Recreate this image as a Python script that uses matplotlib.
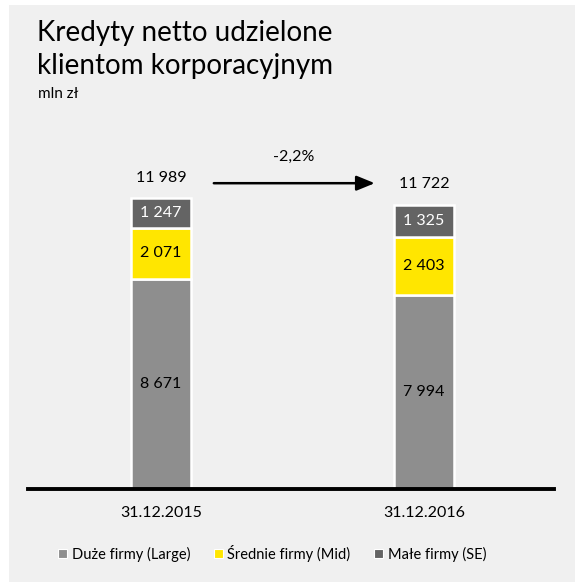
import matplotlib
matplotlib.use("Agg")
import matplotlib.pyplot as plt
from matplotlib.patches import Rectangle, Patch

plt.rcParams['font.family'] = ['Lato', 'DejaVu Sans']

# Data (mln zł)
dates = ["31.12.2015", "31.12.2016"]
large = [8671, 7994]
mid = [2071, 2403]
small = [1247, 1325]
totals = [11989, 11722]
change_label = "-2,2%"
series_names = ["Duże firmy (Large)", "Średnie firmy (Mid)", "Małe firmy (SE)"]

col_large = "#8e8e8e"
col_mid = "#ffe600"
col_small = "#646464"
bg = "#f0f0f0"

W, H = 575, 582
fig = plt.figure(figsize=(W / 100, H / 100), dpi=100, facecolor="white")
fig.patches.append(Rectangle((9 / W, 0), 1 - 9 / W, 1 - 5 / H,
                             transform=fig.transFigure, facecolor=bg,
                             edgecolor="none", zorder=-10))

# axes placed in pixel terms
ax_l, ax_r, ax_b, ax_t = 28, 554, 489, 130
ax = fig.add_axes([ax_l / W, 1 - ax_b / H, (ax_r - ax_l) / W, (ax_b - ax_t) / H])
ax.set_facecolor("none")

def fmt(v):
    return f"{v:,}".replace(",", " ")

x = [0, 1]
bw = 0.228
ax.bar(x, large, width=bw, color=col_large, edgecolor="white", linewidth=1.8)
ax.bar(x, mid, width=bw, bottom=large, color=col_mid, edgecolor="white", linewidth=1.8)
bot2 = [a + b for a, b in zip(large, mid)]
ax.bar(x, small, width=bw, bottom=bot2, color=col_small, edgecolor="white", linewidth=1.8)

for i in range(2):
    ax.text(x[i], large[i] / 2, fmt(large[i]), ha="center", va="center", fontsize=11.5, color="black")
    ax.text(x[i], large[i] + mid[i] / 2, fmt(mid[i]), ha="center", va="center", fontsize=11.5, color="black")
    ax.text(x[i], bot2[i] + small[i] / 2, fmt(small[i]), ha="center", va="center", fontsize=11.5, color="white")
    ax.text(x[i], totals[i] + 550, fmt(totals[i]), ha="center", va="bottom", fontsize=11.5, color="black")

ax.annotate("", xy=(0.823, 12600), xytext=(0.19, 12600),
            arrowprops=dict(arrowstyle="-|>,head_length=1.1,head_width=0.45",
                            color="black", lw=1.8))
ax.text(0.505, 13400, change_label, ha="center", va="bottom", fontsize=11.5)

ax.set_xlim(-0.506, 1.494)
ax.set_ylim(0, (ax_b - ax_t) / 0.02427)
ax.set_xticks(x)
ax.set_xticklabels(dates, fontsize=11.5)
ax.tick_params(axis="x", length=0, pad=12)
ax.set_yticks([])
for s in ["top", "right", "left"]:
    ax.spines[s].set_visible(False)
ax.spines["bottom"].set_linewidth(2.8)

fig.text(37 / W, 1 - 41 / H, "Kredyty netto udzielone", fontsize=20, va="baseline")
fig.text(37 / W, 1 - 74 / H, "klientom korporacyjnym", fontsize=20, va="baseline")
fig.text(38 / W, 1 - 98 / H, "mln zł", fontsize=11, va="baseline")

handles = [Patch(facecolor=c, edgecolor="white", linewidth=0.8) for c in (col_large, col_mid, col_small)]
fig.legend(handles, series_names, loc="center", bbox_to_anchor=(272 / W, 1 - 553 / H),
           ncol=3, frameon=False, fontsize=10.5, handlelength=0.65, handleheight=0.65,
           handletextpad=0.3, columnspacing=1.6)

fig.savefig("out.png", dpi=100, facecolor="white")
